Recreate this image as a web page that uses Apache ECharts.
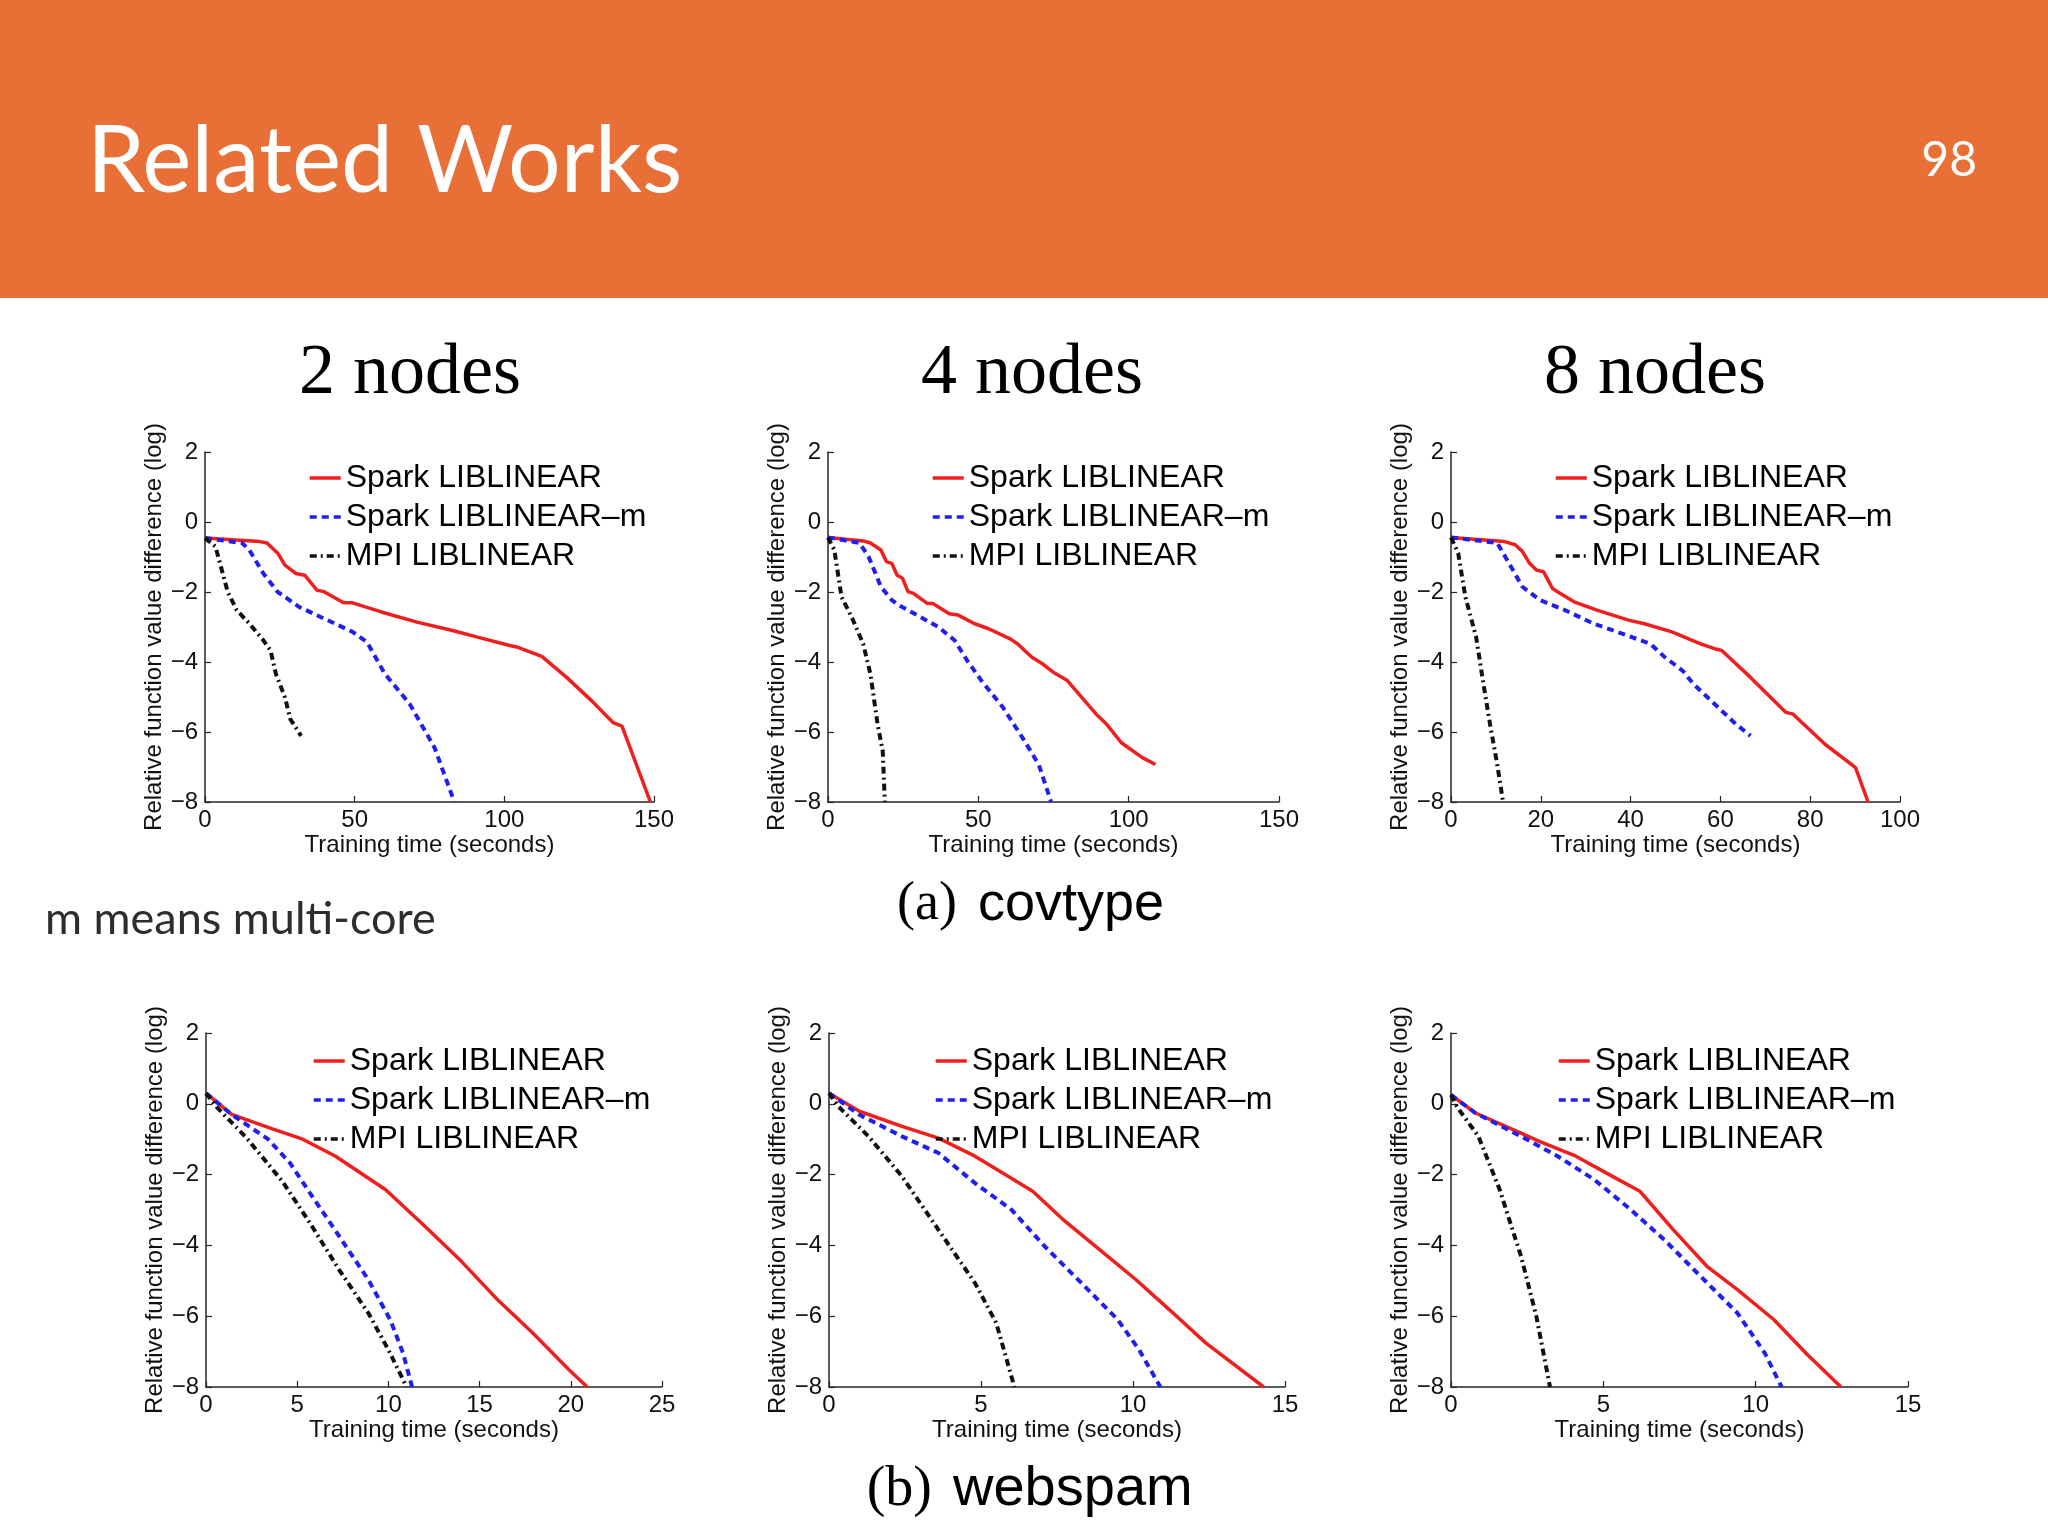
<!DOCTYPE html>
<html>
<head>
<meta charset="utf-8">
<script src="https://cdn.jsdelivr.net/npm/echarts@6/dist/echarts.min.js"></script>
<style>
html,body{margin:0;padding:0;background:#fff;}
#chart{width:2048px;height:1536px;}
</style>
</head>
<body>
<div id="chart"></div>
<script>
// ---------- data ----------
const seriesNames = ['Spark LIBLINEAR', 'Spark LIBLINEAR\u2013m', 'MPI LIBLINEAR'];
const panelTitles = ['2 nodes', '4 nodes', '8 nodes'];
const yTicks = [-8, -6, -4, -2, 0, 2];

// covtype, 2 nodes
const covSpark2 = [[0,-0.46],[18.3,-0.56],[20.7,-0.6],[24.3,-0.89],[26.7,-1.23],[30.3,-1.47],[33.3,-1.52],[37.4,-1.95],[39.8,-1.99],[46.3,-2.31],[49.3,-2.31],[58.9,-2.57],[70.8,-2.86],[82.7,-3.10],[91,-3.29],[101.8,-3.53],[104.1,-3.57],[112.5,-3.84],[120.8,-4.44],[129.2,-5.11],[136.3,-5.73],[139.3,-5.83],[148.8,-8]];
const covSparkM2 = [[0,-0.46],[12.4,-0.6],[14.8,-0.8],[19.5,-1.47],[24.3,-2.0],[26.7,-2.14],[31.5,-2.43],[39.8,-2.76],[49.3,-3.14],[54.1,-3.43],[60.1,-4.34],[68.4,-5.2],[76.7,-6.45],[83.3,-8]];
const covMpi2 = [[0,-0.46],[3.5,-0.7],[7.6,-2.0],[10.6,-2.52],[14.8,-2.9],[19.5,-3.38],[21.9,-3.67],[23.7,-4.34],[26.7,-5.01],[28.5,-5.63],[32.1,-6.11]];
// covtype, 4 nodes
const covSpark4 = [[0,-0.44],[11.7,-0.54],[14.1,-0.6],[17.6,-0.8],[19.4,-1.13],[21.2,-1.18],[23,-1.52],[24.8,-1.61],[26.6,-1.99],[28.4,-2.04],[33.1,-2.33],[34.9,-2.33],[40.3,-2.62],[43.3,-2.66],[48.6,-2.9],[53.4,-3.05],[60.6,-3.34],[63,-3.48],[67.7,-3.86],[71.3,-4.05],[74.9,-4.29],[79.6,-4.53],[84.4,-5.01],[89.2,-5.49],[92.7,-5.78],[97.5,-6.3],[99.9,-6.45],[104.7,-6.74],[108.9,-6.93]];
const covSparkM4 = [[0,-0.44],[10.5,-0.6],[13.5,-0.99],[17.6,-1.85],[21.2,-2.23],[23.6,-2.38],[29.6,-2.66],[36.7,-3.0],[42.1,-3.38],[46.3,-3.96],[51.0,-4.53],[58.2,-5.3],[65.4,-6.26],[70.1,-6.93],[74.2,-8]];
const covMpi4 = [[0,-0.44],[2.1,-0.8],[4.5,-2.14],[8.1,-2.76],[11.7,-3.48],[14.1,-4.34],[16.5,-5.78],[18.2,-6.54],[18.9,-8]];
// covtype, 8 nodes
const covSpark8 = [[0,-0.44],[11.9,-0.56],[14.3,-0.65],[15.9,-0.84],[17.5,-1.18],[19.0,-1.37],[20.6,-1.42],[21.4,-1.61],[22.6,-1.9],[23.8,-2.0],[27.4,-2.28],[32.5,-2.52],[39.7,-2.81],[42.9,-2.9],[49.2,-3.14],[55.6,-3.48],[58.7,-3.62],[60.3,-3.67],[66.7,-4.44],[74.6,-5.44],[76.2,-5.49],[83.3,-6.35],[90.1,-7.02],[92.9,-8]];
const covSparkM8 = [[0,-0.44],[10.3,-0.6],[12.7,-1.13],[15.9,-1.85],[19.8,-2.23],[25.4,-2.52],[31.7,-2.9],[38.1,-3.19],[44.4,-3.48],[47.6,-3.86],[51.6,-4.25],[54.0,-4.63],[58.7,-5.2],[63.5,-5.78],[66.7,-6.11]];
const covMpi8 = [[0,-0.44],[1.6,-0.89],[3.2,-2.14],[5.6,-3.29],[7.1,-4.53],[8.7,-5.78],[10.3,-6.93],[11.6,-8]];
// webspam, 2 nodes
const webSpark2 = [[0,0.3],[1.4,-0.3],[3.6,-0.7],[5.3,-1.0],[7.1,-1.48],[9.85,-2.43],[12,-3.46],[14,-4.45],[15.9,-5.49],[17.9,-6.47],[19.9,-7.51],[20.9,-8]];
const webSparkM2 = [[0,0.3],[1.4,-0.3],[3.4,-1.0],[4.6,-1.67],[5.7,-2.52],[7.3,-3.74],[8.9,-4.97],[10.1,-6.1],[10.8,-7.04],[11.3,-8]];
const webMpi2 = [[0,0.3],[0.6,-0.1],[2.2,-0.95],[4.2,-2.2],[5.7,-3.37],[7.3,-4.69],[8.9,-5.91],[10.0,-6.95],[11.0,-8]];
// webspam, 4 nodes
const webSpark4 = [[0,0.3],[1.0,-0.21],[2.4,-0.64],[3.6,-0.97],[4.8,-1.48],[5.7,-1.95],[6.7,-2.47],[7.7,-3.27],[8.9,-4.12],[10.1,-4.97],[11.2,-5.82],[12.4,-6.76],[14.3,-8]];
const webSparkM4 = [[0,0.3],[1.0,-0.31],[2.4,-0.92],[3.6,-1.39],[4.8,-2.24],[6.0,-2.99],[7.1,-4.03],[8.3,-5.06],[9.5,-6.1],[10.2,-6.95],[10.9,-8]];
const webMpi4 = [[0,0.3],[0.3,-0.07],[1.3,-0.92],[2.4,-2.05],[3.6,-3.56],[4.8,-5.06],[5.5,-6.19],[6.1,-8]];
// webspam, 8 nodes
const webSpark8 = [[0,0.25],[0.8,-0.26],[2.3,-0.83],[2.9,-1.06],[4.1,-1.48],[5.3,-2.05],[6.2,-2.47],[7.3,-3.56],[8.4,-4.59],[9.4,-5.25],[10.6,-6.1],[11.7,-7.09],[12.8,-8]];
const webSparkM8 = [[0,0.25],[0.8,-0.26],[2.3,-0.92],[3.5,-1.48],[4.7,-2.14],[5.9,-2.99],[7.0,-3.84],[8.2,-4.88],[9.4,-5.91],[10.3,-7.04],[10.85,-8]];
const webMpi8 = [[0,0.25],[0.2,-0.09],[0.9,-0.92],[1.6,-2.43],[2.3,-4.31],[2.8,-6.0],[3.25,-8]];

// x-axis ranges per panel
const xMaxes = [150, 150, 100, 25, 15, 15];
const xIntervals = [50, 50, 20, 5, 5, 5];

// ---------- layout ----------
const panels = [
  {left:205, top:452, width:449, height:350, legLeft:308, legTop:462, data:[covSpark2, covSparkM2, covMpi2]},
  {left:828, top:452, width:451, height:350, legLeft:931, legTop:462, data:[covSpark4, covSparkM4, covMpi4]},
  {left:1451, top:452, width:449, height:350, legLeft:1554, legTop:462, data:[covSpark8, covSparkM8, covMpi8]},
  {left:206, top:1033, width:456, height:354, legLeft:312, legTop:1045, data:[webSpark2, webSparkM2, webMpi2]},
  {left:829, top:1033, width:456, height:354, legLeft:934, legTop:1045, data:[webSpark4, webSparkM4, webMpi4]},
  {left:1451, top:1033, width:457, height:354, legLeft:1557, legTop:1045, data:[webSpark8, webSparkM8, webMpi8]}
];

const SANS = 'Liberation Sans';
const SERIF = 'Liberation Serif';
const lineStyles = [
  {color:'#f21e1e', width:3.5, type:'solid'},
  {color:'#1f1ff0', width:4, type:[7,5]},
  {color:'#111111', width:4, type:[7,4,2,4]}
];
const fmt = v => String(v).replace('-', '\u2212');

const grid = [], xAxis = [], yAxis = [], series = [], legend = [];
panels.forEach((p, i) => {
  grid.push({left:p.left, top:p.top, width:p.width, height:p.height, containLabel:false});
  xAxis.push({
    type:'value', gridIndex:i, min:0, max:xMaxes[i], interval:xIntervals[i],
    name:'Training time (seconds)', nameLocation:'middle', nameGap:28,
    nameTextStyle:{fontFamily:SANS, fontSize:24, color:'#111'},
    axisLine:{show:true, onZero:false, lineStyle:{color:'#262626', width:1.5}},
    axisTick:{show:true, inside:true, length:6, lineStyle:{color:'#262626', width:1.2}},
    axisLabel:{fontFamily:SANS, fontSize:24, color:'#111', margin:6, formatter:fmt},
    splitLine:{show:false}
  });
  yAxis.push({
    type:'value', gridIndex:i, min:yTicks[0], max:yTicks[yTicks.length-1], interval:2,
    name:'Relative function value difference (log)', nameLocation:'middle', nameGap:36,
    nameTextStyle:{fontFamily:SANS, fontSize:24, color:'#111'},
    axisLine:{show:true, onZero:false, lineStyle:{color:'#262626', width:1.5}},
    axisTick:{show:true, inside:true, length:6, lineStyle:{color:'#262626', width:1.2}},
    axisLabel:{fontFamily:SANS, fontSize:24, color:'#111', margin:7, formatter:fmt},
    splitLine:{show:false}
  });
  p.data.forEach((d, k) => {
    series.push({
      type:'line', name:seriesNames[k], xAxisIndex:i, yAxisIndex:i,
      data:d, showSymbol:false, symbol:'none', animation:false,
      lineStyle:lineStyles[k], itemStyle:{color:lineStyles[k].color}
    });
  });
  legend.push({
    left:p.legLeft, top:p.legTop, orient:'vertical', padding:0,
    itemWidth:31, itemHeight:14, itemGap:7, selectedMode:false,
    itemStyle:{opacity:0, color:'rgba(0,0,0,0)', borderWidth:0},
    lineStyle:{width:3.5},
    textStyle:{fontFamily:SANS, fontSize:32, color:'#000'},
    data:seriesNames
  });
});

const graphic = [
  {type:'rect', shape:{x:0, y:0, width:2048, height:298}, style:{fill:'#E87036'}, z:0},
  {type:'text', x:87, y:162, style:{text:'Related Works', fontFamily:'Lato', fontSize:93, fill:'#ffffff', align:'left', verticalAlign:'middle'}},
  {type:'text', x:1977, y:161, style:{text:'98', fontFamily:'Lato', fontSize:48, fill:'#ffffff', align:'right', verticalAlign:'middle'}},
  {type:'text', x:410, y:374, style:{text:panelTitles[0], fontFamily:SERIF, fontSize:72, fill:'#000', align:'center', verticalAlign:'middle'}},
  {type:'text', x:1032, y:374, style:{text:panelTitles[1], fontFamily:SERIF, fontSize:72, fill:'#000', align:'center', verticalAlign:'middle'}},
  {type:'text', x:1655, y:374, style:{text:panelTitles[2], fontFamily:SERIF, fontSize:72, fill:'#000', align:'center', verticalAlign:'middle'}},
  {type:'text', x:957, y:905, style:{text:'(a)', fontFamily:SERIF, fontSize:54, fill:'#000', align:'right', verticalAlign:'middle'}},
  {type:'text', x:978, y:905, style:{text:'covtype', fontFamily:SANS, fontSize:54, fill:'#000', align:'left', verticalAlign:'middle'}},
  {type:'text', x:932, y:1490, style:{text:'(b)', fontFamily:SERIF, fontSize:56, fill:'#000', align:'right', verticalAlign:'middle'}},
  {type:'text', x:953, y:1490, style:{text:'webspam', fontFamily:SANS, fontSize:56, fill:'#000', align:'left', verticalAlign:'middle'}},
  {type:'text', x:45, y:919, style:{text:'m means multi-core', fontFamily:'Lato', fontSize:45, fill:'#2d2d2d', align:'left', verticalAlign:'middle'}}
];

const chart = echarts.init(document.getElementById('chart'), null, {renderer:'canvas', width:2048, height:1536});
chart.setOption({
  backgroundColor:'#ffffff',
  animation:false,
  grid, xAxis, yAxis, series, legend, graphic
});
</script>
</body>
</html>
